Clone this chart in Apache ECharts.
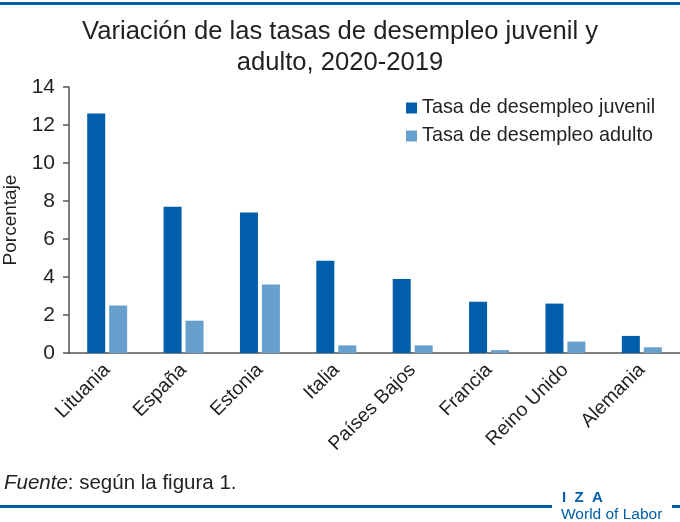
<!DOCTYPE html>
<html>
<head>
<meta charset="utf-8">
<script src="https://cdn.jsdelivr.net/npm/echarts@6/dist/echarts.min.js"></script>
<style>
html,body{margin:0;padding:0;background:#fff;}
#chart{width:680px;height:522px;}
</style>
</head>
<body>
<div id="chart"></div>
<script>
var categories = ['Lituania', 'España', 'Estonia', 'Italia', 'Países Bajos', 'Francia', 'Reino Unido', 'Alemania'];
var juvenil = [12.6, 7.7, 7.4, 4.85, 3.9, 2.7, 2.6, 0.9];
var adulto = [2.5, 1.7, 3.6, 0.4, 0.4, 0.15, 0.6, 0.3];
var seriesNames = ['Tasa de desempleo juvenil', 'Tasa de desempleo adulto'];
var yTicks = [0, 14, 2];

var FONT = 'Liberation Sans';
var chart = echarts.init(document.getElementById('chart'));
chart.setOption({
  animation: false,
  textStyle: { fontFamily: FONT },
  title: {
    text: 'Variación de las tasas de desempleo juvenil y\nadulto, 2020-2019',
    left: 'center',
    top: 11,
    textStyle: { fontFamily: FONT, fontSize: 25.6, fontWeight: 'normal', color: '#231f20', lineHeight: 31 }
  },
  legend: {
    orient: 'vertical',
    left: 401,
    top: 93,
    itemWidth: 11,
    itemHeight: 11,
    itemGap: 8,
    icon: 'rect',
    textStyle: { fontFamily: FONT, fontSize: 19.8, color: '#231f20' },
    data: seriesNames
  },
  grid: { left: 69, right: 0, top: 87, bottom: 169, containLabel: false, outerBoundsMode: 'none' },
  xAxis: {
    type: 'category',
    data: categories,
    axisLine: { lineStyle: { color: '#555', width: 1.5 } },
    axisTick: { show: false },
    axisLabel: { rotate: 45, fontSize: 19.5, color: '#231f20', margin: 14, interval: 0, fontFamily: FONT }
  },
  yAxis: {
    type: 'value',
    min: yTicks[0],
    max: yTicks[1],
    interval: yTicks[2],
    name: 'Porcentaje',
    nameLocation: 'middle',
    nameGap: 46,
    nameTextStyle: { fontSize: 19, color: '#231f20', fontFamily: FONT },
    axisLine: { show: true, lineStyle: { color: '#555', width: 1.5 } },
    axisTick: { show: true, length: 6, lineStyle: { color: '#555', width: 1.5 } },
    splitLine: { show: false },
    axisLabel: { fontSize: 21, color: '#231f20', margin: 14, fontFamily: FONT }
  },
  series: [
    { name: seriesNames[0], type: 'bar', data: juvenil, barWidth: 18, barGap: '22%', itemStyle: { color: '#005eab' } },
    { name: seriesNames[1], type: 'bar', data: adulto, barWidth: 18, itemStyle: { color: '#679fcd' } }
  ],
  graphic: [
    { type: 'rect', shape: { x: 0, y: 2, width: 680, height: 3 }, style: { fill: '#005eab' } },
    { type: 'rect', shape: { x: 0, y: 505, width: 552, height: 3 }, style: { fill: '#005eab' } },
    { type: 'rect', shape: { x: 672, y: 505, width: 8, height: 3 }, style: { fill: '#005eab' } },
    { type: 'text', left: 4, top: 473, style: { text: '{i|Fuente}: según la figura 1.', font: '20.5px ' + FONT, fill: '#231f20',
        rich: { i: { fontStyle: 'italic', fontSize: 20.5, fontFamily: FONT, fill: '#231f20' } } } },
    { type: 'text', left: 562, top: 490, style: { text: 'I  Z  A', font: 'bold 15px ' + FONT, fill: '#005eab' } },
    { type: 'text', left: 561, top: 507, style: { text: 'World of Labor', font: '15.5px ' + FONT, fill: '#005eab' } }
  ]
});
</script>
</body>
</html>
